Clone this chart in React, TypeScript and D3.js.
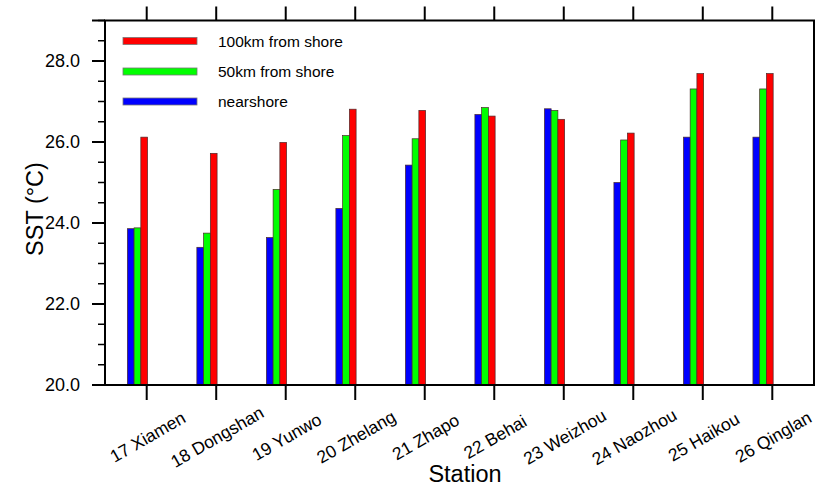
import React from "react";
import * as d3 from "d3";

const stations = [
  "17 Xiamen", "18 Dongshan", "19 Yunwo", "20 Zhelang", "21 Zhapo",
  "22 Behai", "23 Weizhou", "24 Naozhou", "25 Haikou", "26 Qinglan",
];
const nearshore = [23.86, 23.4, 23.64, 24.36, 25.43, 26.68, 26.82, 25.0, 26.12, 26.12];
const km50 = [23.88, 23.75, 24.83, 26.16, 26.08, 26.85, 26.78, 26.05, 27.31, 27.31];
const km100 = [26.12, 25.72, 25.99, 26.81, 26.78, 26.64, 26.56, 26.22, 27.69, 27.69];
const yTicks = [20, 22, 24, 26, 28];
const yTickLabels = ["20.0", "22.0", "24.0", "26.0", "28.0"];
const yMinorTicks = d3.range(20, 29.01, 0.5);

const seriesNames = ["nearshore", "50km from shore", "100km from shore"];
const seriesColors = ["#0000ff", "#00ff00", "#ff0000"];
const seriesData = [nearshore, km50, km100];
const barOffsets = [-0.23, -0.133, -0.036];
const barWidth = 0.097;

const W = 816, H = 490;
const L = 105, R = 814, T = 20.5, B = 385;
const FONT = "'Liberation Sans', Arial, Helvetica, sans-serif";

export default function App() {
  const x = d3.scaleLinear().domain([0.4, 10.6]).range([L, R]);
  const y = d3.scaleLinear().domain([20, 29]).range([B, T]);
  const bw = x(barWidth) - x(0);

  const legendOrder = [2, 1, 0];
  const legendY = [41, 71.5, 101.5];

  return (
    <svg width={W} height={H} style={{ position: "absolute", left: 0, top: 0, background: "#fff" }}>
      <rect x={0} y={0} width={W} height={H} fill="#fff" />
      {/* bars */}
      {seriesData.map((vals, s) =>
        vals.map((v, i) => {
          const cx = x(i + 1 + barOffsets[s]);
          return (
            <rect
              key={`b${s}-${i}`}
              x={cx - bw / 2}
              y={y(v)}
              width={bw}
              height={y(20) - y(v)}
              fill={seriesColors[s]}
              stroke="#4a2a2a"
              strokeWidth={0.7}
            />
          );
        })
      )}
      {/* frame */}
      <rect x={L} y={T} width={R - L} height={B - T} fill="none" stroke="#000" strokeWidth={2} />
      {/* y ticks */}
      {yMinorTicks.map((t, i) => (
        <line key={`ym${i}`} x1={L - 7} x2={L} y1={y(t)} y2={y(t)} stroke="#000" strokeWidth={1.5} />
      ))}
      {yTicks.map((t, i) => (
        <g key={`y${i}`}>
          <line x1={L - 13} x2={L} y1={y(t)} y2={y(t)} stroke="#000" strokeWidth={2} />
          <text x={80} y={y(t)} textAnchor="end" dominantBaseline="central" fontFamily={FONT} fontSize={18} fill="#000">
            {yTickLabels[i]}
          </text>
        </g>
      ))}
      <line x1={L - 13} x2={L} y1={y(29)} y2={y(29)} stroke="#000" strokeWidth={2} />
      {/* x ticks */}
      {stations.map((s, i) => {
        const tx = x(i + 1);
        return (
          <g key={`x${i}`}>
            <line x1={tx} x2={tx} y1={B} y2={B + 15} stroke="#000" strokeWidth={2} />
            <line x1={tx} x2={tx} y1={T} y2={T - 14} stroke="#000" strokeWidth={2} />
            <text
              transform={`translate(${tx + 1},${437}) rotate(-30)`}
              textAnchor="middle"
              dominantBaseline="central"
              fontFamily={FONT}
              fontSize={17.5}
              fill="#000"
            >
              {s}
            </text>
          </g>
        );
      })}
      {/* legend */}
      {legendOrder.map((s, k) => (
        <g key={`l${s}`}>
          <rect x={123} y={legendY[k] - 3.5} width={74} height={7} fill={seriesColors[s]} stroke="#777" strokeWidth={0.8} />
          <text x={218} y={legendY[k]} dominantBaseline="central" fontFamily={FONT} fontSize={15.5} fill="#000">
            {seriesNames[s]}
          </text>
        </g>
      ))}
      {/* axis titles */}
      <text
        transform={`translate(${35},${209}) rotate(-90)`}
        textAnchor="middle"
        dominantBaseline="central"
        fontFamily={FONT}
        fontSize={23.5}
        fill="#000"
      >
        SST (°C)
      </text>
      <text x={465} y={474} textAnchor="middle" dominantBaseline="central" fontFamily={FONT} fontSize={23.5} fill="#000">
        Station
      </text>
    </svg>
  );
}
